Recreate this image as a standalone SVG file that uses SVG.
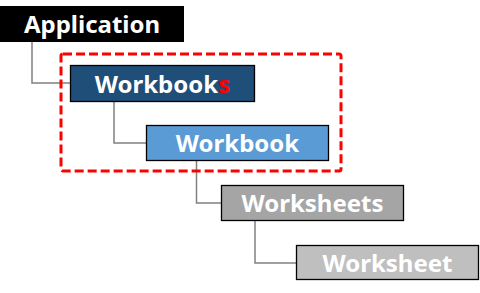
<svg xmlns="http://www.w3.org/2000/svg" width="480" height="293" viewBox="0 0 480 293">
<style>
.box{stroke:#000;stroke-width:1.3}
.lbl{font-family:"Noto Sans","Open Sans",sans-serif;font-weight:bold;font-size:24px;fill:#fff;text-anchor:middle}
.conn{fill:none;stroke:#808080;stroke-width:1.5}
</style>
<rect width="480" height="293" fill="#fff"/>
<g id="connectors">
<polyline class="conn" points="32,42 32,83 70,83"/>
<polyline class="conn" points="114,101 114,143 146,143"/>
<polyline class="conn" points="196.5,161 196.5,203 221,203"/>
<polyline class="conn" points="255,221 255,263 296,263"/>
</g>
<g id="group-workbooks">
<rect x="61" y="54" width="280" height="117" rx="2" fill="none" stroke="#f00" stroke-width="3" stroke-dasharray="9,4"/>
</g>
<g id="application">
<rect x="0" y="6" width="184" height="36" fill="#000"/>
<text class="lbl" x="92" y="33">Application</text>
</g>
<g id="workbooks">
<rect class="box" x="70.5" y="65.5" width="184" height="36" fill="#1F4E79"/>
<text class="lbl" x="162.5" y="93">Workbook<tspan fill="#f00">s</tspan></text>
</g>
<g id="workbook">
<rect class="box" x="146.5" y="125.5" width="182" height="35" fill="#5B9BD5"/>
<text class="lbl" x="237.5" y="152">Workbook</text>
</g>
<g id="worksheets">
<rect class="box" x="221.5" y="185.5" width="182" height="35" fill="#A5A5A5"/>
<text class="lbl" x="312.5" y="212">Worksheets</text>
</g>
<g id="worksheet">
<rect class="box" x="296.5" y="245.5" width="182" height="34" fill="#BFBFBF"/>
<text class="lbl" x="387.5" y="272">Worksheet</text>
</g>
</svg>
